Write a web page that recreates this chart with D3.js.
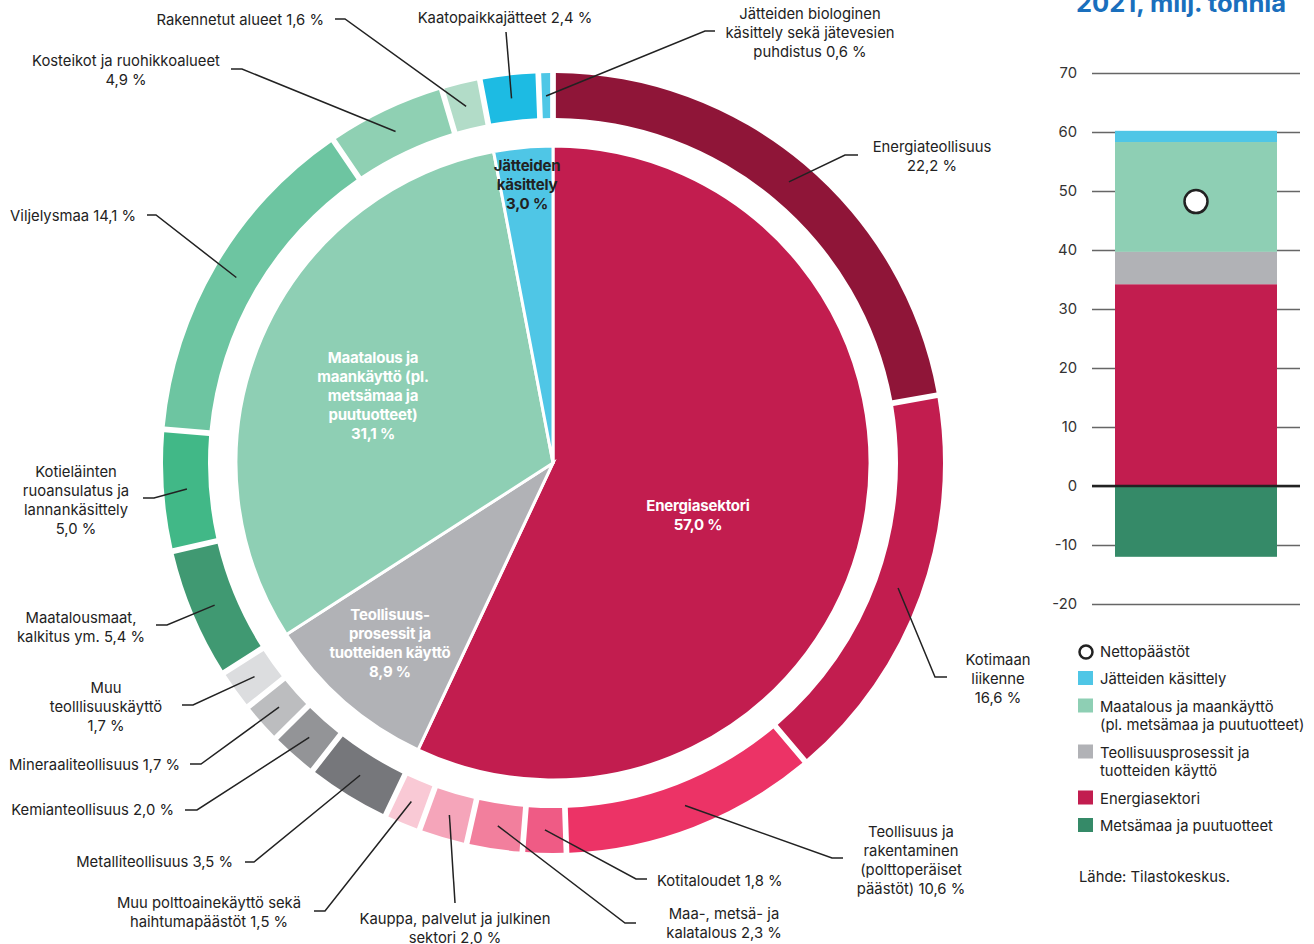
<!DOCTYPE html>
<html lang="fi">
<head>
<meta charset="utf-8">
<script src="https://cdn.jsdelivr.net/npm/d3@7"></script>
<style>
  body { margin: 0; background: #fff; }
  svg { display: block; font-family: Inter, "Noto Sans", sans-serif; }
</style>
</head>
<body>
<div id="chart"></div>
<script>
// inner pie: main sectors, share of total emissions (%)
let sectorNames = ["Energiasektori", "Teollisuus-\nprosessit ja\ntuotteiden käyttö", "Maatalous ja\nmaankäyttö (pl.\nmetsämaa ja\npuutuotteet)", "Jätteiden\nkäsittely"];
let sectorShares = [57.0, 8.9, 31.1, 3.0];
let sectorColors = ["#c21d4f", "#b1b2b6", "#8ecfb4", "#4fc6e6"];

// outer ring: sub-sectors, share of total emissions (%)
let subNames = [
    "Energiateollisuus\n", "Kotimaan\nliikenne\n", "Teollisuus ja\nrakentaminen\n(polttoperäiset\npäästöt)",
    "Kotitaloudet", "Maa-, metsä- ja\nkalatalous", "Kauppa, palvelut ja julkinen\nsektori",
    "Muu polttoainekäyttö sekä\nhaihtumapäästöt",
    "Metalliteollisuus", "Kemianteollisuus", "Mineraaliteollisuus", "Muu\nteolllisuuskäyttö\n",
    "Maatalousmaat,\nkalkitus ym.", "Kotieläinten\nruoansulatus ja\nlannankäsittely\n", "Viljelysmaa",
    "Kosteikot ja ruohikkoalueet\n", "Rakennetut alueet",
    "Kaatopaikkajätteet", "Jätteiden biologinen\nkäsittely sekä jätevesien\npuhdistus"
];
let subShares = [22.2, 16.6, 10.6, 1.8, 2.3, 2.0, 1.5, 3.5, 2.0, 1.7, 1.7, 5.4, 5.0, 14.1, 4.9, 1.6, 2.4, 0.6];
let subColors = [
    "#8f1538", "#c21d4f", "#ec3366", "#ef5b85", "#f27f9d", "#f5a5ba", "#f9c9d5",
    "#76777b", "#939497", "#bcbdbf", "#dcdddf",
    "#409972", "#41b887", "#6dc5a1", "#8fd0b3", "#b2dcc8",
    "#1dbbe3", "#4fc7e6"
];

// stacked bar: 2021, million tonnes
let barKeys = ["Energiasektori", "Teollisuusprosessit", "Maatalous", "Jätteiden käsittely", "Metsämaa ja puutuotteet"];
let barValues = [34.2, 5.5, 18.6, 1.9, -12.0];
let barColors = ["#c21d4f", "#b1b2b6", "#8ecfb4", "#4fc6e6", "#358a68"];
let yTicks = [-20, -10, 0, 10, 20, 30, 40, 50, 60, 70];

let legendLabels = [
    ["Jätteiden käsittely"],
    ["Maatalous ja maankäyttö", "(pl. metsämaa ja puutuotteet)"],
    ["Teollisuusprosessit ja", "tuotteiden käyttö"],
    ["Energiasektori"],
    ["Metsämaa ja puutuotteet"]
];
let legendColors = ["#4fc6e6", "#8ecfb4", "#b1b2b6", "#c21d4f", "#358a68"];

let width = 1314;
let height = 944;
let cx = 553, cy = 463;
let textColor = "#222";
let fontSize = 14.8;

// label placement for the ring (elbow point, end of the leader, text anchor)
let subLabelLayout = [
    { ex: 845, ey: 155, endX: 858, tx: 932, ty: 147, anchor: "middle" },
    { ex: 935, ey: 677, endX: 947, tx: 998, ty: 660, anchor: "middle" },
    { ex: 832, ey: 858, endX: 843, tx: 911, ty: 832, anchor: "middle" },
    { ex: 636, ey: 879, endX: 647, tx: 657, ty: 881, anchor: "start" },
    { ex: 625, ey: 923, endX: 636, tx: 724, ty: 914, anchor: "middle" },
    { ex: 455, ey: 903, endX: 455, tx: 455, ty: 919, anchor: "middle" },
    { ex: 325, ey: 911, endX: 314, tx: 209, ty: 903, anchor: "middle" },
    { ex: 254, ey: 862, endX: 245, tx: 233, ty: 862, anchor: "end" },
    { ex: 197, ey: 810, endX: 185, tx: 174, ty: 810, anchor: "end" },
    { ex: 201, ey: 764, endX: 190, tx: 180, ty: 765, anchor: "end" },
    { ex: 193, ey: 705, endX: 182, tx: 106, ty: 688, anchor: "middle" },
    { ex: 167, ey: 625, endX: 156, tx: 81, ty: 618, anchor: "middle" },
    { ex: 154, ey: 498, endX: 143, tx: 76, ty: 472, anchor: "middle" },
    { ex: 156, ey: 215, endX: 147, tx: 136, ty: 216, anchor: "end" },
    { ex: 242, ey: 69, endX: 231, tx: 126, ty: 61, anchor: "middle" },
    { ex: 345, ey: 19, endX: 335, tx: 324, ty: 20, anchor: "end" },
    { ex: 506, ey: 32, endX: 506, tx: 505, ty: 18, anchor: "middle" },
    { ex: 705, ey: 31, endX: 715, tx: 810, ty: 14, anchor: "middle" }
];
let sectorLabelLayout = [
    { tx: 698, ty: 506, fill: "#fff" },
    { tx: 390, ty: 615, fill: "#fff" },
    { tx: 373, ty: 358, fill: "#fff" },
    { tx: 527, ty: 166, fill: "#222" }
];

let fi = d3.formatLocale({ decimal: ",", thousands: " ", grouping: [3], currency: ["", " €"] });
let pct = v => fi.format(".1f")(v) + " %";

function labelLines(name, value) {
    let lines = name.split("\n");
    let last = lines.pop();
    lines.push(last ? last + " " + pct(value) : pct(value));
    return lines;
}

const svg = d3.select("#chart").append("svg")
    .attr("width", width)
    .attr("height", height)
    .attr("viewBox", [0, 0, width, height]);

const pie = d3.pie().sort(null).value(d => d);

// inner pie
const innerArc = d3.arc().innerRadius(0).outerRadius(317);
const gPie = svg.append("g").attr("transform", `translate(${cx},${cy})`);
gPie.selectAll("path")
    .data(pie(sectorShares))
    .join("path")
    .attr("d", innerArc)
    .attr("fill", (d, i) => sectorColors[i])
    .attr("stroke", "#fff")
    .attr("stroke-width", 3);

// outer ring
const ringArc = d3.arc().innerRadius(345).outerRadius(390).padAngle(0.011);
const midArc = d3.arc().innerRadius(367).outerRadius(367);
const ringData = pie(subShares);
gPie.selectAll("path.ring")
    .data(ringData)
    .join("path")
    .attr("class", "ring")
    .attr("d", ringArc)
    .attr("fill", (d, i) => subColors[i]);

// leader lines and labels for the ring
const gLabels = svg.append("g");
ringData.forEach((d, i) => {
    let c = midArc.centroid(d);
    let lay = subLabelLayout[i];
    let pts = [[cx + c[0], cy + c[1]], [lay.ex, lay.ey], [lay.endX, lay.ey]];
    gLabels.append("path")
        .attr("d", d3.line()(pts))
        .attr("fill", "none")
        .attr("stroke", textColor)
        .attr("stroke-width", 1.5);
    let t = gLabels.append("text")
        .attr("text-anchor", lay.anchor)
        .attr("font-size", fontSize)
        .attr("fill", textColor);
    labelLines(subNames[i], subShares[i]).forEach((line, k) => {
        t.append("tspan")
            .attr("x", lay.tx)
            .attr("y", lay.ty + k * 18.8)
            .attr("dy", "0.35em")
            .text(line);
    });
});

// labels inside the pie
sectorNames.forEach((name, i) => {
    let lay = sectorLabelLayout[i];
    let t = svg.append("text")
        .attr("text-anchor", "middle")
        .attr("font-size", 15)
        .attr("font-weight", 700)
        .attr("letter-spacing", -0.2)
        .attr("fill", lay.fill);
    labelLines(name + "\n", sectorShares[i]).forEach((line, k) => {
        t.append("tspan")
            .attr("x", lay.tx)
            .attr("y", lay.ty + k * 19)
            .attr("dy", "0.35em")
            .text(line);
    });
});

// stacked bar on the right
let y = d3.scaleLinear().domain([-20, 70]).range([604, 73]);
let x = d3.scaleBand().domain(["2021"]).range([1092, 1300]).paddingOuter(0.142);

svg.append("text")
    .attr("x", 1076)
    .attr("y", 12)
    .attr("font-size", 25.5)
    .attr("font-weight", 700)
    .attr("fill", "#1a6fbd")
    .text("2021, milj. tonnia");

svg.append("g")
    .attr("transform", "translate(1092,0)")
    .call(d3.axisLeft(y).tickValues(yTicks).tickSize(-(1300 - 1092)).tickPadding(15).tickFormat(d => String(d)))
    .call(g => g.select(".domain").remove())
    .call(g => g.selectAll(".tick line").attr("stroke", "#666").attr("stroke-width", 1.5))
    .call(g => g.selectAll(".tick text").attr("font-size", fontSize).attr("fill", "#333").attr("font-family", "Inter, sans-serif"));

let row = { year: "2021" };
barKeys.forEach((k, i) => row[k] = barValues[i]);
let series = d3.stack().keys(barKeys).offset(d3.stackOffsetDiverging)([row]);

svg.append("g")
    .selectAll("rect")
    .data(series)
    .join("rect")
    .attr("x", x("2021"))
    .attr("width", x.bandwidth())
    .attr("y", s => y(Math.max(s[0][0], s[0][1])))
    .attr("height", s => Math.abs(y(s[0][0]) - y(s[0][1])))
    .attr("fill", (s, i) => barColors[i]);

svg.append("line")
    .attr("x1", 1092).attr("x2", 1300)
    .attr("y1", y(0)).attr("y2", y(0))
    .attr("stroke", textColor)
    .attr("stroke-width", 2.5);

let net = d3.sum(barValues);
svg.append("circle")
    .attr("cx", x("2021") + x.bandwidth() / 2)
    .attr("cy", y(net))
    .attr("r", 11.5)
    .attr("fill", "#fff")
    .attr("stroke", textColor)
    .attr("stroke-width", 2.5);

// legend
const legend = svg.append("g").attr("font-size", fontSize).attr("fill", textColor);
legend.append("circle")
    .attr("cx", 1086).attr("cy", 652).attr("r", 6.5)
    .attr("fill", "#fff").attr("stroke", textColor).attr("stroke-width", 2.5);
legend.append("text")
    .attr("x", 1100).attr("y", 652).attr("dy", "0.35em")
    .text("Nettopäästöt");
let ly = 679;
legendLabels.forEach((lines, i) => {
    legend.append("rect")
        .attr("x", 1078).attr("y", ly - 8)
        .attr("width", 15).attr("height", 14)
        .attr("fill", legendColors[i]);
    let t = legend.append("text");
    lines.forEach((line, k) => {
        t.append("tspan")
            .attr("x", 1100)
            .attr("y", ly + k * 18.5)
            .attr("dy", "0.35em")
            .text(line);
    });
    ly += 27.5 + (lines.length - 1) * 18.5;
});

svg.append("text")
    .attr("x", 1079).attr("y", 877).attr("dy", "0.35em")
    .attr("font-size", fontSize).attr("fill", textColor)
    .text("Lähde: Tilastokeskus.");
</script>
</body>
</html>
